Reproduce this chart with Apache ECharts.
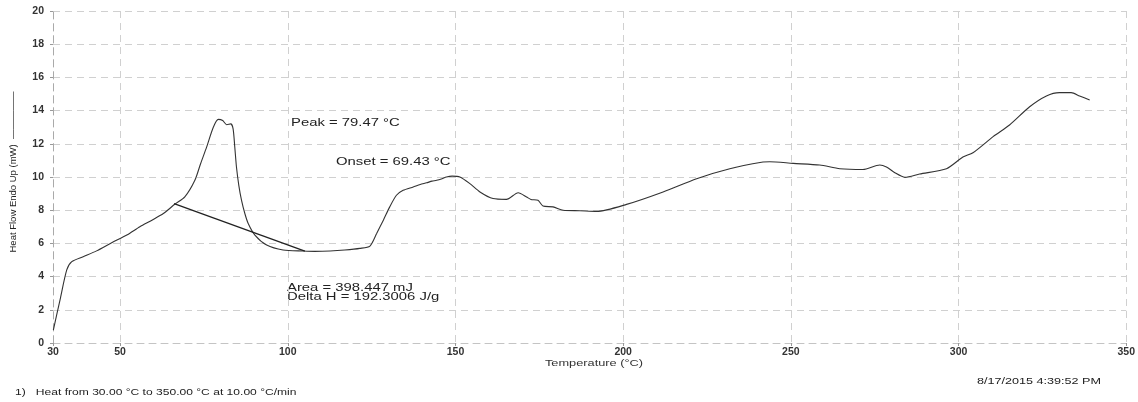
<!DOCTYPE html>
<html>
<head>
<meta charset="utf-8">
<script src="https://cdn.jsdelivr.net/npm/echarts@6/dist/echarts.min.js"></script>
<style>html,body{margin:0;padding:0;background:#fff;}#c{width:1138px;height:402px;}</style>
</head>
<body>
<div id="c"></div>
<script>
const xTicks = [30, 50, 100, 150, 200, 250, 300, 350];
const temps = [30.1, 32.1, 34.1, 35.6, 39.0, 43, 47.5, 52, 55.9, 59.5, 62.9, 66.4, 69.3, 72.3, 74, 75.8, 77.8, 79.3, 80.6, 81.8, 83.0, 83.7, 84.2, 84.7, 85.4, 86.2, 87.2, 88.2, 90.2, 93.7, 98.6, 104.6, 108, 112.6, 117, 121.5, 124.5, 126.5, 128.5, 130.4, 132.4, 134.4, 137.4, 139.5, 141.4, 143, 144.4, 146, 147.3, 149, 151.3, 154.3, 157.3, 161.2, 165.2, 168.7, 171.2, 172.5, 174.6, 176.1, 179.1, 182.1, 187.1, 192.1, 201.0, 211.9, 221.9, 231.8, 241.7, 243.7, 250.7, 258.6, 264.6, 271.5, 276.5, 278.5, 281.0, 284.0, 288.4, 296.4, 301.3, 304.3, 310.3, 315.2, 321.2, 326.2, 330.1, 333.6, 336.1, 339.1];
const heatFlow = [0.78, 2.6, 4.4, 4.9, 5.2, 5.55, 6.04, 6.5, 7.0, 7.4, 7.8, 8.37, 8.8, 9.8, 10.8, 11.8, 13.0, 13.47, 13.4, 13.15, 13.2, 12.9, 11.8, 10.6, 9.5, 8.6, 7.8, 7.2, 6.5, 5.9, 5.6, 5.54, 5.52, 5.54, 5.6, 5.7, 5.84, 6.6, 7.4, 8.2, 8.9, 9.2, 9.4, 9.55, 9.65, 9.75, 9.8, 9.9, 10.0, 10.05, 10.0, 9.6, 9.1, 8.7, 8.65, 9.05, 8.8, 8.65, 8.6, 8.25, 8.2, 8.0, 7.97, 7.93, 8.35, 9.1, 9.9, 10.5, 10.9, 10.92, 10.82, 10.72, 10.5, 10.45, 10.72, 10.6, 10.26, 9.98, 10.18, 10.5, 11.2, 11.46, 12.43, 13.13, 14.23, 14.88, 15.08, 15.08, 14.88, 14.64];
const baselineT = [66.1, 105.1];
const baselineV = [8.4, 5.54];

const chart = echarts.init(document.getElementById('c'));
const font = 'Liberation Sans, Arial, sans-serif';
const gridLine = { show: true, lineStyle: { color: '#d0d0d0', type: [7, 5], width: 1 } };
const sx = 1.35;
chart.setOption({
  animation: false,
  backgroundColor: '#fff',
  grid: { left: 53, right: 11, top: 11, bottom: 59 },
  xAxis: {
    type: 'value', min: 30, max: 350,
    axisLine: { show: true, lineStyle: { color: '#c4c4c4', type: [7, 5] } },
    axisTick: { show: true, customValues: xTicks, length: 3, lineStyle: { color: '#999' } },
    axisLabel: { customValues: xTicks, fontFamily: font, fontSize: 10.5, fontWeight: 'bold', color: '#333', margin: 4 },
    splitLine: gridLine
  },
  yAxis: {
    type: 'value', min: 0, max: 20, interval: 2,
    axisLine: { show: true, lineStyle: { color: '#aaa', type: [7, 5] } },
    axisTick: { show: true, length: 3, lineStyle: { color: '#999' } },
    axisLabel: { fontFamily: font, fontSize: 10.5, fontWeight: 'bold', color: '#333', margin: 9 },
    splitLine: gridLine
  },
  series: [
    {
      type: 'line', showSymbol: false, smooth: 0.25,
      lineStyle: { color: '#333', width: 1.1 },
      data: temps.map((t, i) => [t, heatFlow[i]])
    },
    {
      type: 'line', showSymbol: false,
      lineStyle: { color: '#222', width: 1.3 },
      data: baselineT.map((t, i) => [t, baselineV[i]])
    }
  ],
  graphic: [
    { type: 'text', x: 291, y: 117, scaleX: sx, style: { text: 'Peak = 79.47 °C', font: '11px ' + font, fill: '#222' } },
    { type: 'text', x: 336, y: 156, scaleX: sx, style: { text: 'Onset = 69.43 °C', font: '11px ' + font, fill: '#222' } },
    { type: 'text', x: 287, y: 283, scaleX: sx, style: { text: 'Area = 398.447 mJ\nDelta H = 192.3006 J/g', font: '11px ' + font, lineHeight: 9, fill: '#222' } },
    { type: 'text', x: 594, y: 359, scaleX: 1.42, style: { text: 'Temperature (°C)', font: '9px ' + font, fill: '#333', align: 'center' } },
    { type: 'text', x: 15, y: 388, scaleX: 1.42, style: { text: '1)   Heat from 30.00 °C to 350.00 °C at 10.00 °C/min', font: '8.5px ' + font, fill: '#222' } },
    { type: 'text', x: 977, y: 377, scaleX: 1.4, style: { text: '8/17/2015 4:39:52 PM', font: '9px ' + font, fill: '#222' } },
    { type: 'text', x: 13, y: 172, rotation: Math.PI / 2, style: { text: 'Heat Flow Endo Up (mW)  —————', font: '9.5px ' + font, fill: '#222', align: 'center', verticalAlign: 'middle' } }
  ]
});
</script>
</body>
</html>
